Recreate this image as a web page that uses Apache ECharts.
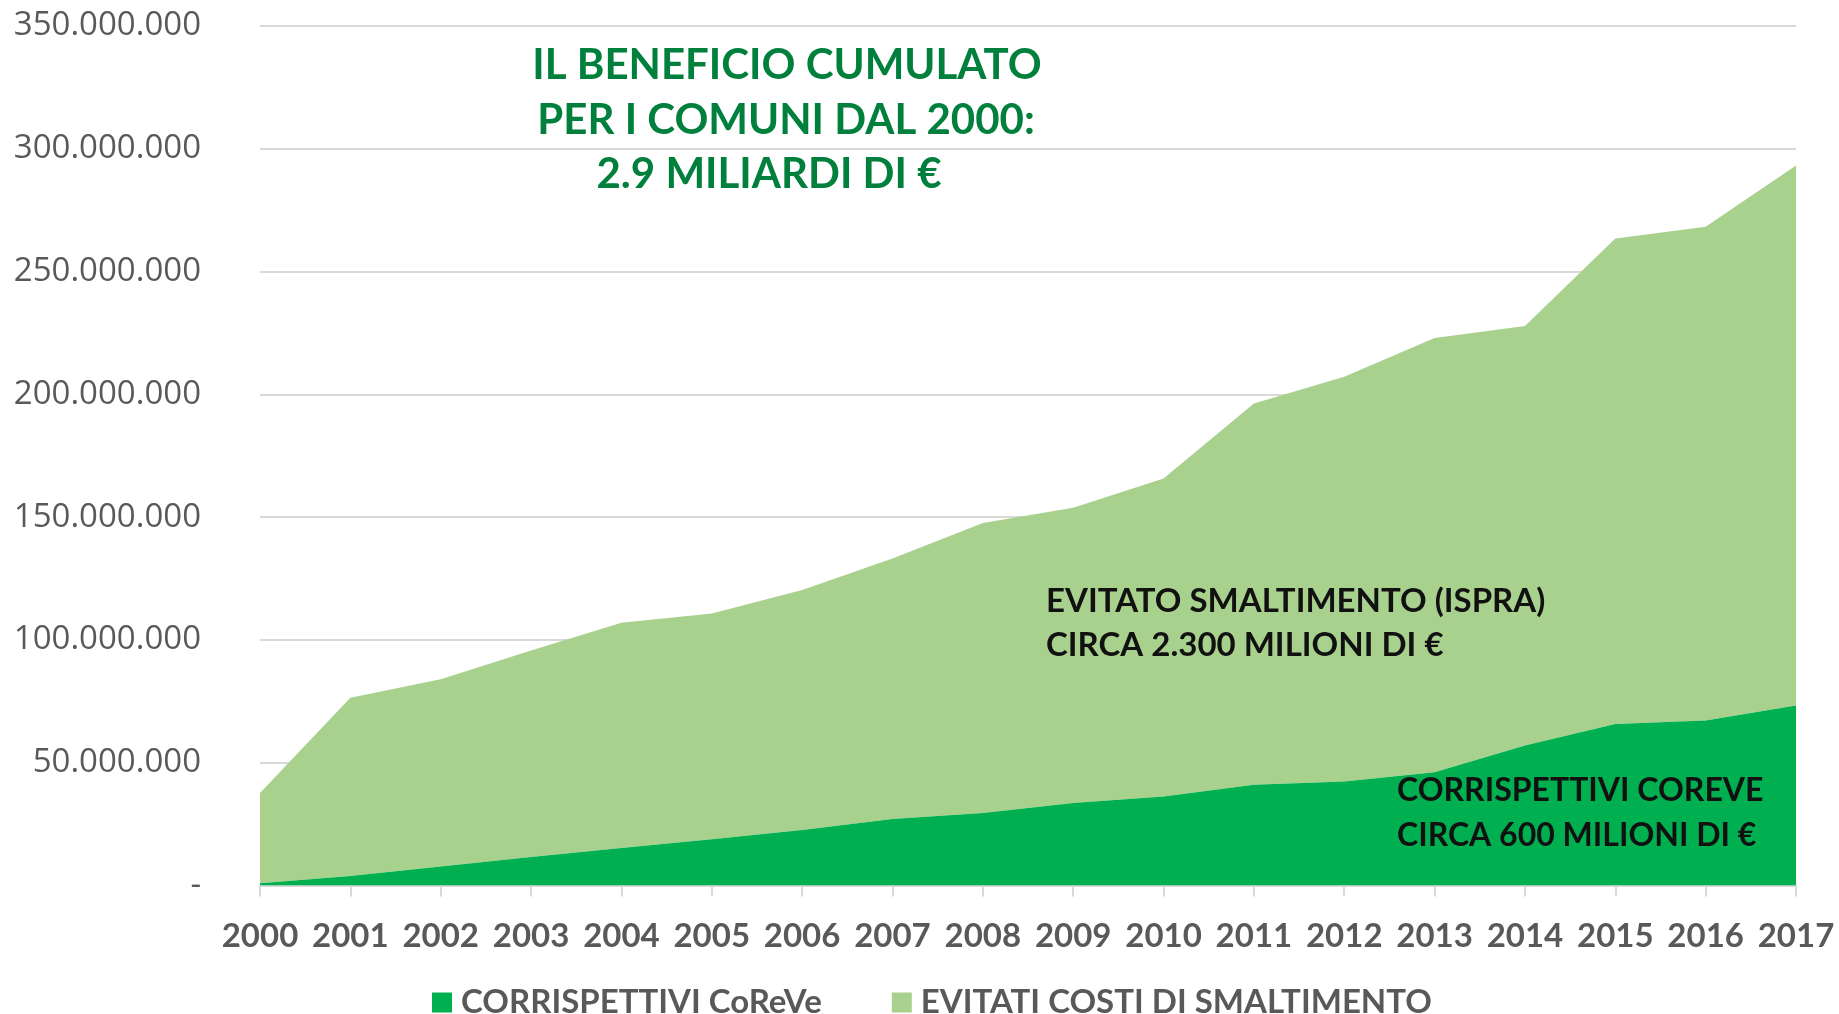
<!DOCTYPE html>
<html>
<head>
<meta charset="utf-8">
<script src="https://cdn.jsdelivr.net/npm/echarts@6/dist/echarts.min.js"></script>
<style>html,body{margin:0;padding:0;background:#fff}#c{width:1839px;height:1014px}</style>
</head>
<body>
<div id="c"></div>
<script>
const years = ['2000','2001','2002','2003','2004','2005','2006','2007','2008','2009','2010','2011','2012','2013','2014','2015','2016','2017'];
const corrispettivi = [900000, 3900000, 7700000, 11600000, 15300000, 18800000, 22600000, 27100000, 29500000, 33600000, 36200000, 41000000, 42300000, 46100000, 57000000, 65800000, 67200000, 73300000];
const evitati = [36800000, 72600000, 76300000, 84100000, 91700000, 92000000, 97700000, 106100000, 118100000, 120200000, 129500000, 155300000, 164900000, 176900000, 170800000, 197700000, 201100000, 219900000];
const yTicks = [0, 50000000, 100000000, 150000000, 200000000, 250000000, 300000000, 350000000];
const seriesNames = ['CORRISPETTIVI CoReVe', 'EVITATI COSTI DI SMALTIMENTO'];
const titleLines = ['IL BENEFICIO CUMULATO', 'PER I COMUNI DAL 2000:', '2.9 MILIARDI DI €'];
const notes = ['EVITATO SMALTIMENTO (ISPRA)', 'CIRCA 2.300 MILIONI DI €', 'CORRISPETTIVI COREVE', 'CIRCA 600 MILIONI DI €'];

function fmt(v) {
  if (v === 0) return '-';
  return String(Math.round(v)).replace(/\B(?=(\d{3})+(?!\d))/g, '.');
}

const chart = echarts.init(document.getElementById('c'), null, {renderer: 'canvas'});
const txt = (text, x, y, size, color, align) => ({
  type: 'text', x: x, y: y, z: 100,
  style: {text: text, fill: color, fontSize: size, fontWeight: 'bold', fontFamily: 'Lato',
    textAlign: align, textVerticalAlign: 'middle', align: align, verticalAlign: 'middle'}
});
chart.setOption({
  animation: false,
  grid: {left: 260, right: 43, top: 26, bottom: 128.5, containLabel: false},
  xAxis: {
    type: 'category', data: years, boundaryGap: false,
    axisLine: {lineStyle: {color: '#D9D9D9', width: 2}},
    axisTick: {show: true, alignWithLabel: true, length: 11, lineStyle: {color: '#D9D9D9', width: 2}},
    axisLabel: {color: '#595959', fontSize: 33, fontWeight: 'bold', fontFamily: 'Lato', margin: 34, interval: 0},
    splitLine: {show: false}
  },
  yAxis: {
    type: 'value', min: 0, max: 350000000, interval: 50000000,
    axisLine: {show: false}, axisTick: {show: false},
    axisLabel: {color: '#595959', fontSize: 33, fontFamily: 'Open Sans', margin: 59, formatter: fmt},
    splitLine: {lineStyle: {color: '#D9D9D9', width: 2}}
  },
  legend: {
    top: 981, left: 427, itemWidth: 20, itemHeight: 20, itemGap: 70,
    icon: 'rect',
    textStyle: {color: '#595959', fontSize: 33, fontWeight: 'bold', fontFamily: 'Lato', padding: [0,0,0,4]},
    data: seriesNames
  },
  series: [
    {name: seriesNames[0], type: 'line', stack: 'tot', data: corrispettivi, showSymbol: false, symbol: 'none',
      lineStyle: {width: 0}, areaStyle: {color: '#00B050', opacity: 1}, itemStyle: {color: '#00B050'}, z: 3},
    {name: seriesNames[1], type: 'line', stack: 'tot', data: evitati, showSymbol: false, symbol: 'none',
      lineStyle: {width: 0}, areaStyle: {color: '#A9D18E', opacity: 1}, itemStyle: {color: '#A9D18E'}, z: 2}
  ],
  graphic: [
    txt(titleLines[0], 787, 65, 42, '#00803C', 'center'),
    txt(titleLines[1], 786, 120, 42, '#00803C', 'center'),
    txt(titleLines[2], 769, 174, 42, '#00803C', 'center'),
    txt(notes[0], 1046, 601, 33, '#111111', 'left'),
    txt(notes[1], 1046, 645, 33, '#111111', 'left'),
    txt(notes[2], 1397, 791, 32, '#111111', 'left'),
    txt(notes[3], 1397, 836, 32, '#111111', 'left')
  ]
});
</script>
</body>
</html>
